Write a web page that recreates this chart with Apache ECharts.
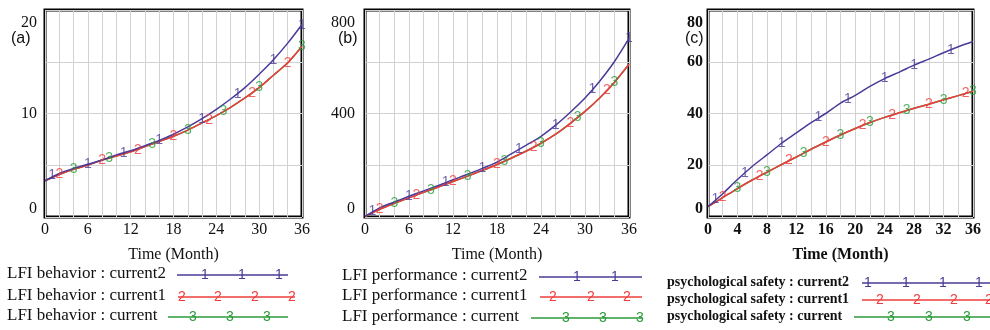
<!DOCTYPE html>
<html>
<head>
<meta charset="utf-8">
<script src="https://cdn.jsdelivr.net/npm/echarts@6/dist/echarts.min.js"></script>
<style>
html,body{margin:0;padding:0;background:#fff;}
#c{width:990px;height:330px;}
</style>
</head>
<body>
<div id="c"></div>
<script>
// ---------- DATA ----------
var months = [0,2,4,6,8,10,12,14,16,18,20,22,24,26,28,30,32,34,36];

// (a) LFI behavior
var aCurrent2 = [3.5,4.2,4.7,5.1,5.5,6.0,6.4,6.9,7.4,8.0,8.7,9.5,10.4,11.4,12.5,13.8,15.2,16.8,18.6];
var aCurrent1 = [3.5,4.1,4.6,5.0,5.5,5.9,6.3,6.8,7.3,7.8,8.4,9.1,9.8,10.6,11.5,12.5,13.7,14.9,16.5];
var aCurrent  = [3.5,4.1,4.6,5.0,5.5,5.9,6.3,6.8,7.3,7.8,8.4,9.1,9.8,10.6,11.5,12.5,13.7,14.9,16.5];
var aMark2 = [[1,4.0],[6,5.1],[11,6.2],[16,7.4],[22,9.5],[27,11.9],[32,15.2],[36,18.5]];
var aMark1 = [[2,4.1],[8,5.5],[13,6.5],[18,7.8],[23,9.4],[29,12.0],[34,14.9]];
var aMark0 = [[4,4.6],[9,5.7],[15,7.0],[20,8.4],[25,10.2],[30,12.5],[36,16.5]];

// (b) LFI performance
var bCurrent2 = [2,35,58,80,101,122,144,165,188,212,245,278,312,355,405,460,525,600,690];
var bCurrent1 = [2,30,53,74,95,116,137,158,180,203,228,255,285,320,362,408,460,520,590];
var bCurrent  = [2,30,53,74,95,116,137,158,180,203,228,255,285,320,362,408,460,520,590];
var bMark2 = [[1,22],[6,80],[11,133],[16,188],[21,262],[26,355],[31,495],[36,690]];
var bMark1 = [[2,30],[7,84],[12,137],[18,203],[23,270],[28,362],[33,490]];
var bMark0 = [[4,53],[9,105],[14,158],[19,215],[24,285],[29,385],[34,520]];

// (c) psychological safety
var cCurrent2 = [4,9,14.5,19.5,24,28.5,32.5,36.5,40,44,47,50.5,53.5,56,58.7,61,63.5,65.8,67.8];
var cCurrent1 = [4,7.5,11,14.3,17.3,20.3,23.2,26.2,29,31.7,34.2,36.5,38.5,40.3,42,43.6,45.3,46.9,48.6];
var cCurrent  = [4,7.5,11,14.3,17.3,20.3,23.2,26.2,29,31.7,34.2,36.5,38.5,40.3,42,43.6,45.3,46.9,48.6];
var cMark2 = [[1,6.8],[5,17.1],[10,28.5],[15,38.5],[19,45.5],[24,53.5],[28,58.7],[33,64.6]];
var cMark1 = [[2,7.5],[7,15.8],[11,21.8],[16,29],[21,35.4],[25,39.4],[30,43.6],[35,47.7]];
var cMark0 = [[4,11],[8,17.3],[13,24.7],[18,31.7],[22,36.5],[27,41.2],[32,45.3],[36,48.6]];

var panelTags = ['(a)','(b)','(c)'];
var xTitle = 'Time (Month)';
var legendA = ['LFI behavior : current2','LFI behavior : current1','LFI behavior : current'];
var legendB = ['LFI performance : current2','LFI performance : current1','LFI performance : current'];
var legendC = ['psychological safety : current2','psychological safety : current1','psychological safety : current'];
var markerDigits = ['1','2','3'];

// ---------- STYLE ----------
var COLORS = ['#4b3a98','#f03c3c','#2a9a3a'];
var SERIF = '"Liberation Serif","Times New Roman",serif';
var SANS = '"Liberation Sans",Arial,sans-serif';
var GRIDC = '#d2d2d2';

function pair(xs, ys){ return xs.map(function(x,i){return [x, ys[i]];}); }

var grids = [
  {left:45, top:10, width:257, height:207},
  {left:365, top:10, width:264, height:207},
  {left:708, top:10, width:265, height:207}
];
var xCfg = [ {interval:6, minor:3, bold:false}, {interval:6, minor:3, bold:false}, {interval:4, minor:2, bold:true} ];
var yCfg = [ {max:20, interval:10, minor:2, bold:false, margin:8},
             {max:800, interval:400, minor:2, bold:false, margin:10},
             {max:80, interval:20, minor:0, bold:true, margin:5} ];

var option = {
  animation:false,
  backgroundColor:'#fff',
  grid: grids.map(function(g){ return Object.assign({show:true, borderColor:'#000', borderWidth:3, backgroundColor:'transparent'}, g); }),
  xAxis: [], yAxis: [], series: [], graphic: []
};

for (var p=0;p<3;p++){
  var xc = xCfg[p], yc = yCfg[p];
  option.xAxis.push({
    type:'value', gridIndex:p, min:0, max:36, interval:xc.interval,
    name:xTitle, nameLocation:'middle', nameGap:30,
    nameTextStyle:{fontFamily:SERIF, fontSize:16, color:'#111', fontWeight: p===2?'bold':'normal'},
    axisLine:{show:false}, axisTick:{show:false},
    axisLabel:{fontFamily:SERIF, fontSize:16, color:'#111', margin:5, fontWeight: xc.bold?'bold':'normal'},
    splitLine:{show:true, lineStyle:{color:GRIDC, width:1}},
    minorTick:{show:false, splitNumber:xc.minor},
    minorSplitLine:{show:true, lineStyle:{color:GRIDC, width:1}}
  });
  (function(yc){
    option.yAxis.push({
      type:'value', gridIndex:p, min:0, max:yc.max, interval:yc.interval,
      axisLine:{show:false}, axisTick:{show:false},
      axisLabel:{fontFamily:SERIF, fontSize:16, color:'#111', margin:yc.margin, fontWeight: yc.bold?'bold':'normal',
        formatter:function(v){
          if (v===yc.max) return '{mx|'+v+'}';
          if (v===0) return '{mn|'+v+'}';
          return '{md|'+v+'}';
        },
        rich:{
          mx:{fontFamily:SERIF, fontSize:16, color:'#111', fontWeight: yc.bold?'bold':'normal', padding:[26,0,0,0]},
          mn:{fontFamily:SERIF, fontSize:16, color:'#111', fontWeight: yc.bold?'bold':'normal', padding:[0,0,16,0]},
          md:{fontFamily:SERIF, fontSize:16, color:'#111', fontWeight: yc.bold?'bold':'normal'}
        }
      },
      splitLine:{show:true, lineStyle:{color:GRIDC, width:1}},
      minorTick:{show:false, splitNumber: yc.minor||5},
      minorSplitLine:{show: yc.minor>0, lineStyle:{color:GRIDC, width:1}}
    });
  })(yc);
}

var panels = [
  {lines:[aCurrent2,aCurrent1,aCurrent], marks:[aMark2,aMark1,aMark0]},
  {lines:[bCurrent2,bCurrent1,bCurrent], marks:[bMark2,bMark1,bMark0]},
  {lines:[cCurrent2,cCurrent1,cCurrent], marks:[cMark2,cMark1,cMark0]}
];
var drawOrder = [2,1,0]; // green under red under blue
panels.forEach(function(pn, p){
  drawOrder.forEach(function(k){
    option.series.push({
      type:'line', xAxisIndex:p, yAxisIndex:p, smooth:0.3, showSymbol:false, symbol:'none',
      data: pair(months, pn.lines[k]),
      lineStyle:{color:COLORS[k], width:1.5}, z:2+(2-k)
    });
  });
  [0,1,2].forEach(function(k){
    option.series.push({
      type:'scatter', xAxisIndex:p, yAxisIndex:p, symbol:'circle', symbolSize:1,
      itemStyle:{color:'rgba(0,0,0,0)'}, z:10,
      data: pn.marks[k],
      label:{show:true, position:'inside', formatter:markerDigits[k], color:COLORS[k],
             fontFamily:SANS, fontSize:14}
    });
  });
});

// panel tags
var tagPos = [[11,40],[338,40],[685,40]];
panelTags.forEach(function(t,i){
  option.graphic.push({type:'text', left:tagPos[i][0], top:tagPos[i][1]-9,
    style:{text:t, font:'16px '+SANS, fill:'#111'}});
});

// legends
var legends = [
  {names:legendA, x:7, ys:[275,297,317], bold:false, size:17,
   lines:[[177,288],[178,295],[168,288]],
   digits:[[205,242,279],[182,218,255,292],[193,230,267]]},
  {names:legendB, x:342, ys:[277,297,318], bold:false, size:17,
   lines:[[539,642],[540,642],[531,642]],
   digits:[[577,615],[553,591,627],[566,603,640]]},
  {names:legendC, x:667, ys:[283,300,317], bold:true, size:14,
   lines:[[862,990],[862,990],[854,990]],
   digits:[[868,906,943,979],[880,917,954,989],[891,929,967]]}
];
legends.forEach(function(L){
  for (var r=0;r<3;r++){
    option.graphic.push({type:'text', left:L.x, top:L.ys[r]-Math.round(L.size*0.6),
      style:{text:L.names[r], font:(L.bold?'bold ':'')+L.size+'px '+SERIF, fill:'#111'}});
    option.graphic.push({type:'line', shape:{x1:L.lines[r][0], y1:L.ys[r], x2:L.lines[r][1], y2:L.ys[r]},
      style:{stroke:COLORS[r], lineWidth:1.6}});
    L.digits[r].forEach(function(dx){
      option.graphic.push({type:'text', x:dx, y:L.ys[r],
        style:{text:markerDigits[r], font:'14px '+SANS, fill:COLORS[r], align:'center', verticalAlign:'middle'}});
    });
  }
});

var chart = echarts.init(document.getElementById('c'), null, {renderer:'canvas'});
chart.setOption(option);
</script>
</body>
</html>
